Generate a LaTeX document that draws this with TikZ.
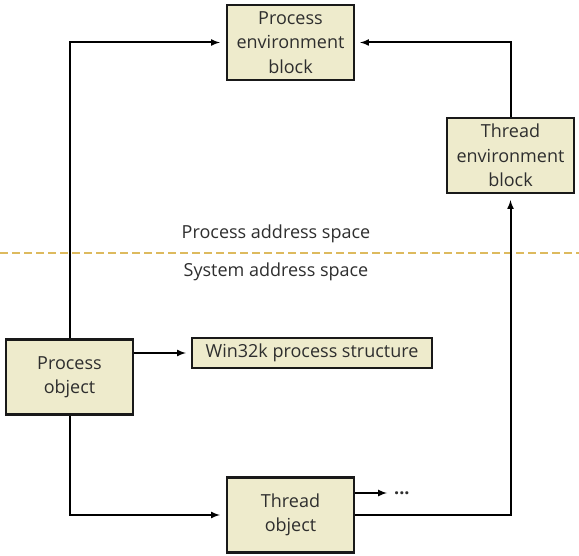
\documentclass[tikz,border=0pt]{standalone}
\usepackage{fontspec}
\setmainfont{Open Sans}
\usepackage{tikz}
\usetikzlibrary{arrows}
\definecolor{blockfill}{HTML}{EEEBCC}
\definecolor{spaceline}{HTML}{DDBA5E}
\definecolor{blocktext}{HTML}{2E2E2E}

\begin{document}
\begin{tikzpicture}[x=1pt,y=-1pt,
      blk/.style={draw=black!90,line width=2.2pt,fill=blockfill,text=blocktext,
        align=center,inner sep=0pt,minimum width=127pt,minimum height=75pt,
        font=\fontsize{18}{24.5}\selectfont},
      link/.style={line width=2pt,-latex,shorten >=6pt},
      lbl/.style={text=blocktext,font=\fontsize{18}{20}\selectfont}]
     \useasboundingbox (0,0) rectangle (579,556);
     \node[blk] (peb)  at (290.5, 42.5) {Process\\environment\\block};
     \node[blk] (teb)  at (510.5,155.5) {Thread\\environment\\block};
     \node[blk] (proc) at ( 69.5,377.0) {Process\\object};
     \node[blk] (thr)  at (290.5,515.0) {Thread\\object};
     \node[blk,minimum width=240pt,minimum height=30pt]
                (w32k) at (312.0,353.0) {Win32k process structure};
     \node[lbl,anchor=west,inner sep=0pt] (dots) at (394,493) {\textbf{...}};
     \node[lbl] (pas) at (276,234) {Process address space};
     \node[lbl] (sas) at (276,272) {System address space};
     \draw[spaceline,line width=2pt,dash pattern=on 8pt off 4pt]
      (0,253) -- (579,253);
     \draw[link] (proc.north) |- (peb.west);
     \draw[link,shorten >=5pt] (teb.north) |- (peb.east);
     \draw[link] (proc.south) |- (thr.west);
     \draw[link] (thr.east) -| (teb.south);
     \draw[link,shorten >=5pt] (proc.east |- w32k.west) -- (w32k.west);
     \draw[link,shorten >=7pt] (thr.east |- dots.west) -- (dots.west);
    \end{tikzpicture}
\end{document}
